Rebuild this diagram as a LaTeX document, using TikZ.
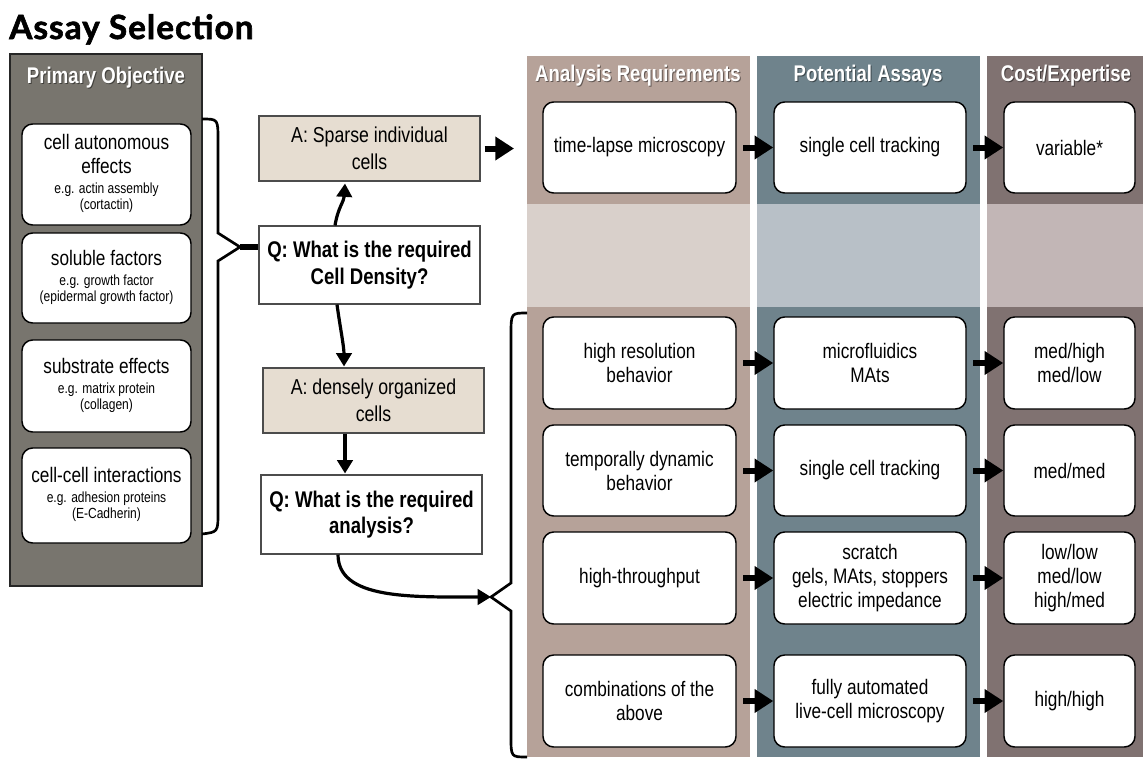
\documentclass[tikz,border=0pt]{standalone}
\usepackage{fontspec}
\setmainfont[FakeStretch=0.82]{Liberation Sans}
\newfontfamily\titlefont[BoldFeatures={FakeBold=1.8}, LetterSpace=3]{Lato}
\usetikzlibrary{arrows.meta,calc}
\definecolor{primcol}{HTML}{78756E}
\definecolor{ardark}{HTML}{B6A299}
\definecolor{arlight}{HTML}{D9D0CB}
\definecolor{padark}{HTML}{6F838C}
\definecolor{palight}{HTML}{B8C0C7}
\definecolor{cedark}{HTML}{807271}
\definecolor{celight}{HTML}{C2B6B6}
\definecolor{beige}{HTML}{E6DDD1}
\newcommand\sm[2]{\fontsize{11}{12.2}\selectfont\begin{tabular}[t]{@{}c@{}}#1\\#2\end{tabular}}
\newcommand\bx[7]{\node[#2, minimum width={(#5-#3)*0.75pt}, minimum height={(#6-#4)*0.75pt}] (#1) at ({(#3+#5)/2},{(#4+#6)/2}) {#7};}
\tikzset{
  panel/.style={inner sep=0pt, outer sep=0pt},
  wbox/.style={draw=black, line width=1.1pt, fill=white, rounded corners=8pt, inner sep=0pt, align=center, font=\fontsize{15.75}{18}\selectfont},
  abox/.style={draw=black!70, line width=0.8pt, fill=beige, inner sep=0pt, align=center, font=\fontsize{16.2}{20}\selectfont},
  qbox/.style={draw=black!70, line width=0.8pt, fill=white, inner sep=0pt, align=center, font=\bfseries\fontsize{17}{20}\selectfont},
  hdr/.style={text=white, font=\bfseries\fontsize{17}{19}\selectfont},
  hdrshadow/.style={text=black, opacity=0.45, font=\bfseries\fontsize{17}{19}\selectfont},
  bigarrow/.style={line width=4.5pt, -{Triangle[length=14pt,width=17pt]}},
  medarrow/.style={line width=2.4pt, -{Triangle[length=10pt,width=11.5pt]}},
  brace/.style={line width=2pt, line join=miter},
}
\begin{document}
\begin{tikzpicture}[x=0.75pt,y=-0.75pt]
\useasboundingbox (0,0) rectangle (1143,758);
% title
\node[anchor=base west, inner sep=0pt, font=\titlefont\bfseries\fontsize{25}{28}\selectfont] (title) at (9,39) {Assay Selection};

% primary objective panel
\bx{prim}{panel, fill=primcol, draw=black!85, line width=1.4pt}{10}{54}{202}{586}{}
\node[hdrshadow] (primhs) at (107,79) {Primary Objective};
\node[hdr] (primh) at (106,78) {Primary Objective};
\bx{b1}{wbox}{22}{124}{191}{225}{cell autonomous\\effects\\[-3pt]\sm{e.g. actin assembly}{(cortactin)}}
\bx{b2}{wbox}{22}{233}{191}{323}{soluble factors\\[-3pt]\sm{e.g. growth factor}{(epidermal growth factor)}}
\bx{b3}{wbox}{22}{340}{191}{432}{substrate effects\\[-3pt]\sm{e.g. matrix protein}{(collagen)}}
\bx{b4}{wbox}{22}{448}{191}{543}{cell-cell interactions\\[-3pt]\sm{e.g. adhesion proteins}{(E-Cadherin)}}

% columns
\bx{colar}{panel, fill=ardark}{527}{56}{750}{757}{}
\bx{colpa}{panel, fill=padark}{757}{56}{980}{757}{}
\bx{colce}{panel, fill=cedark}{987}{56}{1143}{757}{}
\bx{bandar}{panel, fill=arlight}{527}{204}{750}{307}{}
\bx{bandpa}{panel, fill=palight}{757}{204}{980}{307}{}
\bx{bandce}{panel, fill=celight}{987}{204}{1143}{307}{}
\node[hdrshadow] (h1s) at (639,77) {Analysis Requirements};
\node[hdr] (h1) at (638,76) {Analysis Requirements};
\node[hdrshadow] (h2s) at (869,77) {Potential Assays};
\node[hdr] (h2) at (868,76) {Potential Assays};
\node[hdrshadow] (h3s) at (1067,77) {Cost/Expertise};
\node[hdr] (h3) at (1066,76) {Cost/Expertise};

% row boxes
\bx{a0}{wbox}{543}{102}{736}{193}{time-lapse microscopy}
\bx{p0}{wbox}{774}{102}{966}{193}{single cell tracking}
\bx{c0}{wbox}{1004}{102}{1135}{193}{variable*}

\bx{a1}{wbox}{543}{317}{736}{409}{high resolution\\behavior}
\bx{p1}{wbox}{774}{317}{966}{409}{microfluidics\\MAts}
\bx{c1}{wbox}{1004}{317}{1135}{409}{med/high\\med/low}

\bx{a2}{wbox}{543}{425}{736}{516}{temporally dynamic\\behavior}
\bx{p2}{wbox}{774}{425}{966}{516}{single cell tracking}
\bx{c2}{wbox}{1004}{425}{1135}{516}{med/med}

\bx{a3}{wbox}{543}{532}{736}{624}{high-throughput}
\bx{p3}{wbox}{774}{532}{966}{624}{scratch\\gels, MAts, stoppers\\electric impedance}
\bx{c3}{wbox}{1004}{532}{1135}{624}{low/low\\med/low\\high/med}

\bx{a4}{wbox}{543}{655}{736}{747}{combinations of the\\above}
\bx{p4}{wbox}{774}{655}{966}{747}{fully automated\\live-cell microscopy}
\bx{c4}{wbox}{1004}{655}{1135}{747}{high/high}

\foreach \r in {0,1,2,3,4}{
  \draw[bigarrow, shorten <=5pt] (a\r) -- (p\r);
  \draw[bigarrow, shorten <=5pt] (p\r) -- (c\r);
}

% middle flow
\bx{sparse}{abox}{259}{116}{480}{181}{A: Sparse individual\\cells}
\bx{q1}{qbox}{259}{226}{480}{304}{Q: What is the required\\Cell Density?}
\bx{dense}{abox}{263}{368}{484}{433}{A: densely organized\\cells}
\bx{q2}{qbox}{261}{475}{482}{554}{Q: What is the required\\analysis?}

\coordinate (sptgt) at (514,148.5);
\draw[bigarrow, shorten <=3pt] (sparse) -- (sptgt);

\draw[medarrow] ($(q1.north)+(-34.5,0)$) .. controls +(3,-18) and +(-1,18) .. ($(sparse.south)+(-24.5,2)$);
\draw[medarrow] ($(q1.south)+(-32.5,0)$) .. controls +(3,22) and +(0,-20) .. ($(dense.north)+(-29.5,-1)$);
\draw[medarrow] ($(dense.south)+(-28.5,0)$) -- ($(q2.north)+(-26.5,-1)$);

% left brace
\coordinate (lbtip) at (240,247);
\draw[brace] (202,119) .. controls (218,119) .. (218,140) -- (218,233) -- (lbtip) -- (218,261) -- (218,512) .. controls (218,532) .. (202,534);
\draw[line width=4pt] (lbtip) -- (lbtip -| q1.west);

% right brace
\coordinate (rbtip) at (491,597);
\draw[brace] (527,313) .. controls (511,313) .. (511,335) -- (511,583) -- (rbtip) -- (511,611) -- (511,737) .. controls (511,757) .. (527,757);
\draw[medarrow] ($(q2.south)+(-33.5,0)$) .. controls +(0,45) and +(-80,0) .. (rbtip);
\end{tikzpicture}
\end{document}
